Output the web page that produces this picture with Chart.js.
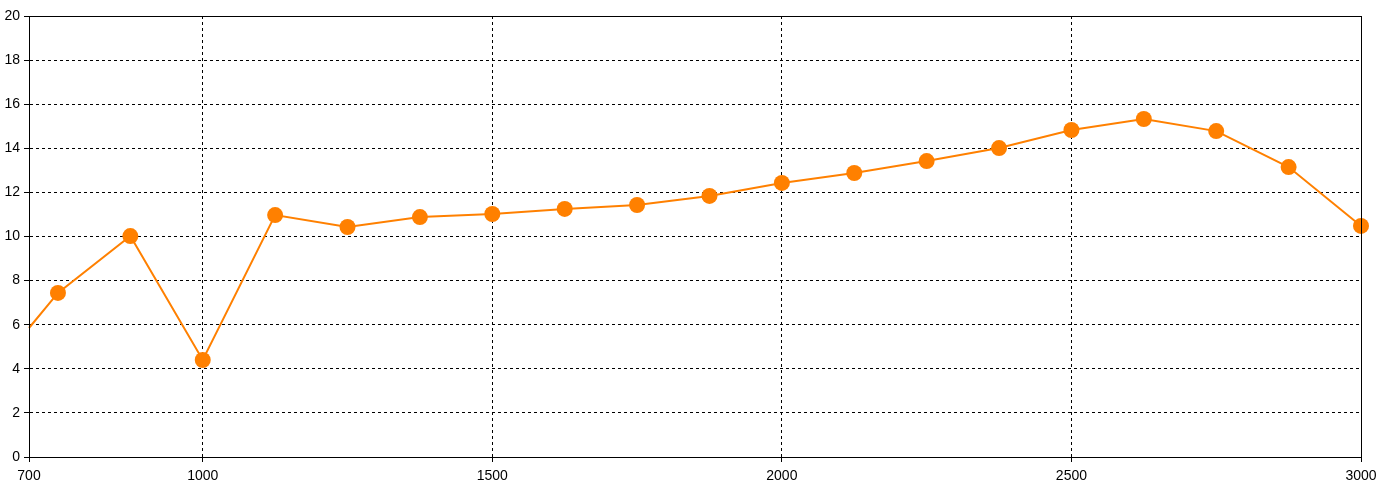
<!DOCTYPE html>
<html>
<head>
<meta charset="utf-8">
<script src="https://cdn.jsdelivr.net/npm/chart.js@4/dist/chart.umd.min.js"></script>
<style>
  html, body { margin: 0; padding: 0; background: #fff; }
  #wrap { width: 1380px; height: 488px; }
</style>
</head>
<body>
<div id="wrap"><canvas id="myChart"></canvas></div>
<script>
// x positions and values
const xValues = [700, 750, 875, 1000, 1125, 1250, 1375, 1500, 1625, 1750, 1875, 2000, 2125, 2250, 2375, 2500, 2625, 2750, 2875, 3000];
const yValues = [5.85, 7.44, 10.02, 4.40, 10.97, 10.43, 10.88, 11.02, 11.25, 11.43, 11.84, 12.43, 12.88, 13.42, 14.01, 14.83, 15.33, 14.78, 13.15, 10.48];
// tick labels on the x axis
const xTicks = [700, 1000, 1500, 2000, 2500, 3000];
// first point has no marker in the reference
const markerSizes = xValues.map((x, i) => i === 0 ? 0 : 8);

const lineColor = '#ff8000';
const labelFont = { family: 'Liberation Sans', size: 14 };

// solid frame around the plot area
const frameBox = {
  id: 'frameBox',
  afterDraw(chart) {
    const a = chart.chartArea;
    const c = chart.ctx;
    c.save();
    c.strokeStyle = '#000';
    c.lineWidth = 1;
    c.setLineDash([]);
    c.strokeRect(Math.round(a.left) + 0.5, Math.round(a.top) + 0.5, Math.round(a.right - a.left), Math.round(a.bottom - a.top));
    c.restore();
  }
};

const points = xValues.map((x, i) => ({ x: x, y: yValues[i] }));

new Chart(document.getElementById('myChart'), {
  type: 'line',
  data: {
    datasets: [{
      data: points,
      borderColor: lineColor,
      backgroundColor: lineColor,
      borderWidth: 2,
      pointRadius: markerSizes,
      pointHoverRadius: markerSizes,
      pointBorderWidth: 0,
      tension: 0,
      clip: false
    }]
  },
  plugins: [frameBox],
  options: {
    responsive: true,
    maintainAspectRatio: false,
    animation: false,
    layout: { padding: { left: 0, right: 19, top: 16, bottom: 0 } },
    plugins: { legend: { display: false }, tooltip: { enabled: false } },
    scales: {
      x: {
        type: 'linear',
        min: 700,
        max: 3000,
        afterBuildTicks(scale) { scale.ticks = xTicks.map(v => ({ value: v })); },
        afterFit(scale) {
          scale.height = 31;
          scale.paddingLeft = 0;
          scale.paddingRight = 0;
        },
        ticks: {
          maxRotation: 0,
          autoSkip: false,
          padding: 6,
          color: '#000',
          font: labelFont,
          callback: v => String(v)
        },
        grid: {
          color: '#000',
          borderDash: [3, 3],
          tickBorderDash: [],
          tickColor: '#000',
          tickLength: 5
        },
        border: { display: true, color: '#000', dash: [3, 3] }
      },
      y: {
        min: 0,
        max: 20,
        afterFit(scale) { scale.width = 29; },
        ticks: {
          stepSize: 2,
          padding: 4,
          color: '#000',
          font: labelFont
        },
        grid: {
          color: '#000',
          tickBorderDash: [],
          tickColor: '#000',
          tickLength: 5
        },
        border: { display: true, color: '#000', dash: [3, 3] }
      }
    }
  }
});
</script>
</body>
</html>
